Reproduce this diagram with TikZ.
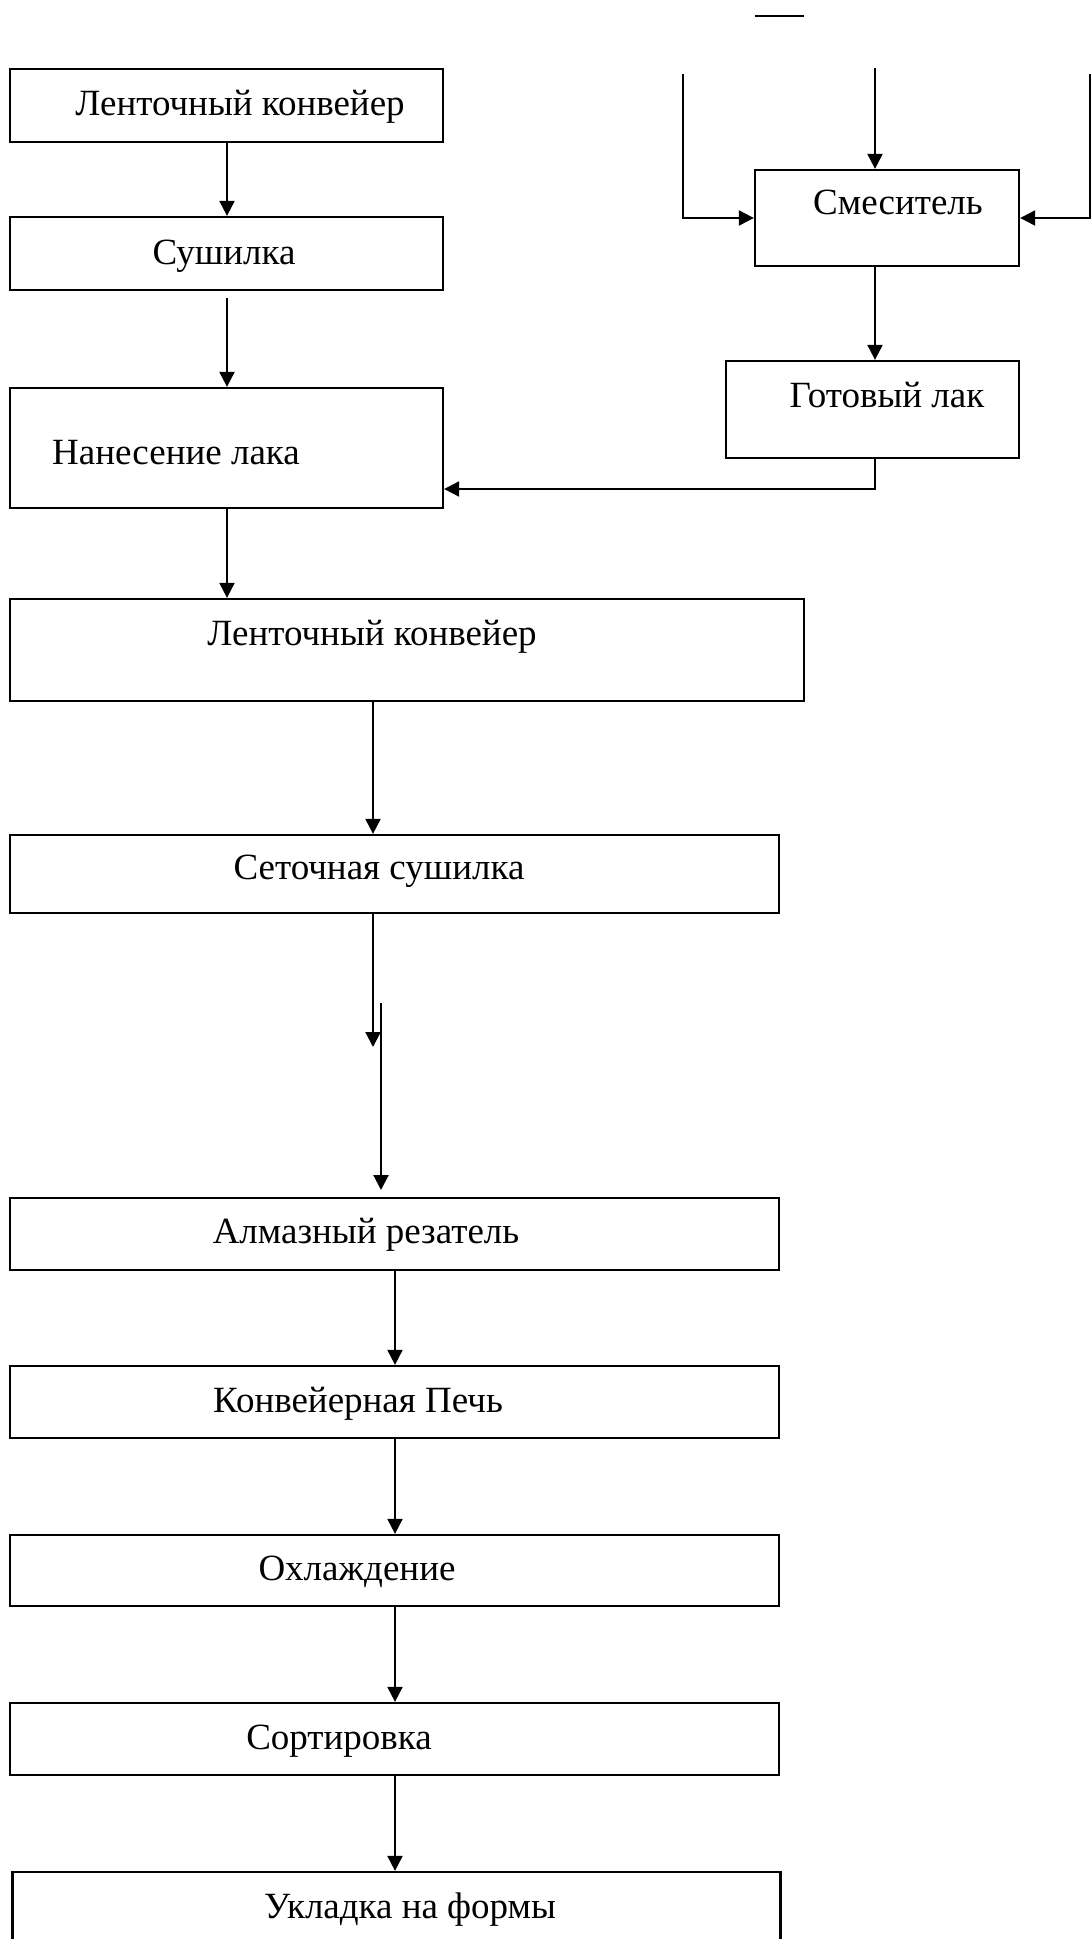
\documentclass[tikz,border=0pt]{standalone}
\usepackage{fontspec}
\setmainfont{Liberation Serif}
\usetikzlibrary{arrows.meta}
\begin{document}
\begin{tikzpicture}[x=1pt,y=-1pt,
  box/.style={draw,line width=2.3pt,rectangle,inner sep=0pt},
  lbl/.style={anchor=base,inner sep=0pt,font=\fontsize{37}{40}\selectfont},
  arr/.style={line width=2.1pt,-{Triangle[length=15pt,width=15pt]}},
  ln/.style={line width=2.1pt}]
\useasboundingbox (0,0) rectangle (1091,1939);
\clip (0,0) rectangle (1091,1939);
% boxes
\node[box,minimum width=433pt,minimum height=73pt] (b1) at (226.5,105.5) {};
\node[box,minimum width=433pt,minimum height=73pt] (b2) at (226.5,253.5) {};
\node[box,minimum width=433pt,minimum height=120pt] (b3) at (226.5,448) {};
\node[box,minimum width=264pt,minimum height=96pt] (m) at (887,218) {};
\node[box,minimum width=293pt,minimum height=97pt] (g) at (872.5,409.5) {};
\node[box,minimum width=794pt,minimum height=102pt] (b4) at (407,650) {};
\node[box,minimum width=769pt,minimum height=78pt] (b5) at (394.5,874) {};
\node[box,minimum width=769pt,minimum height=72pt] (b6) at (394.5,1234) {};
\node[box,minimum width=769pt,minimum height=72pt] (b7) at (394.5,1402) {};
\node[box,minimum width=769pt,minimum height=71pt] (b8) at (394.5,1570.5) {};
\node[box,minimum width=769pt,minimum height=72pt] (b9) at (394.5,1739) {};
\node[box,minimum width=768pt,minimum height=72pt] (b10) at (396.5,1908) {};
% labels
\node[lbl] (t1) at (240,115) {Ленточный конвейер};
\node[lbl] (t2) at (224,264) {Сушилка};
\node[lbl] (t3) at (176,464) {Нанесение лака};
\node[lbl] (tm) at (898,214) {Смеситель};
\node[lbl] (tg) at (887,407) {Готовый лак};
\node[lbl] (t4) at (372,645) {Ленточный конвейер};
\node[lbl] (t5) at (379,879) {Сеточная сушилка};
\node[lbl] (t6) at (366,1243) {Алмазный резатель};
\node[lbl] (t7) at (358,1412) {Конвейерная Печь};
\node[lbl] (t8) at (357,1580) {Охлаждение};
\node[lbl] (t9) at (339,1749) {Сортировка};
\node[lbl] (t10) at (410,1918) {Укладка на формы};
% column coordinates
\coordinate (cA) at (227,0);
\coordinate (cB) at (373,0);
\coordinate (cC) at (381,0);
\coordinate (cD) at (395,0);
\coordinate (cM) at (875,0);
% left chain arrows
\draw[arr] (b1.south -| cA) -- (b2.north -| cA);
\coordinate (s2) at (227,298);
\draw[arr] (s2) -- (b3.north -| cA);
\draw[arr] (b3.south -| cA) -- (b4.north -| cA);
\draw[arr] (b4.south -| cB) -- (b5.north -| cB);
\coordinate (e5) at (373,1047);
\draw[arr] (b5.south -| cB) -- (e5);
\coordinate (s6) at (381,1003);
\coordinate (e6) at (381,1190);
\draw[arr] (s6) -- (e6);
\draw[arr] (b6.south -| cD) -- (b7.north -| cD);
\draw[arr] (b7.south -| cD) -- (b8.north -| cD);
\draw[arr] (b8.south -| cD) -- (b9.north -| cD);
\draw[arr] (b9.south -| cD) -- (b10.north -| cD);
% mixer inputs
\coordinate (top1) at (755,16);
\coordinate (top2) at (804,16);
\draw[ln] (top1) -- (top2);
\coordinate (inL) at (683,74);
\coordinate (inM) at (875,68);
\coordinate (inR) at (1090,74);
\draw[arr] (inL) |- (m.west);
\draw[arr] (inM) -- (m.north -| cM);
\draw[arr] (inR) |- (m.east);
\draw[arr] (m.south -| cM) -- (g.north -| cM);
\coordinate (turn) at (875,489);
\draw[arr] (g.south -| cM) -- (turn) -- (turn -| b3.east);
\end{tikzpicture}
\end{document}
